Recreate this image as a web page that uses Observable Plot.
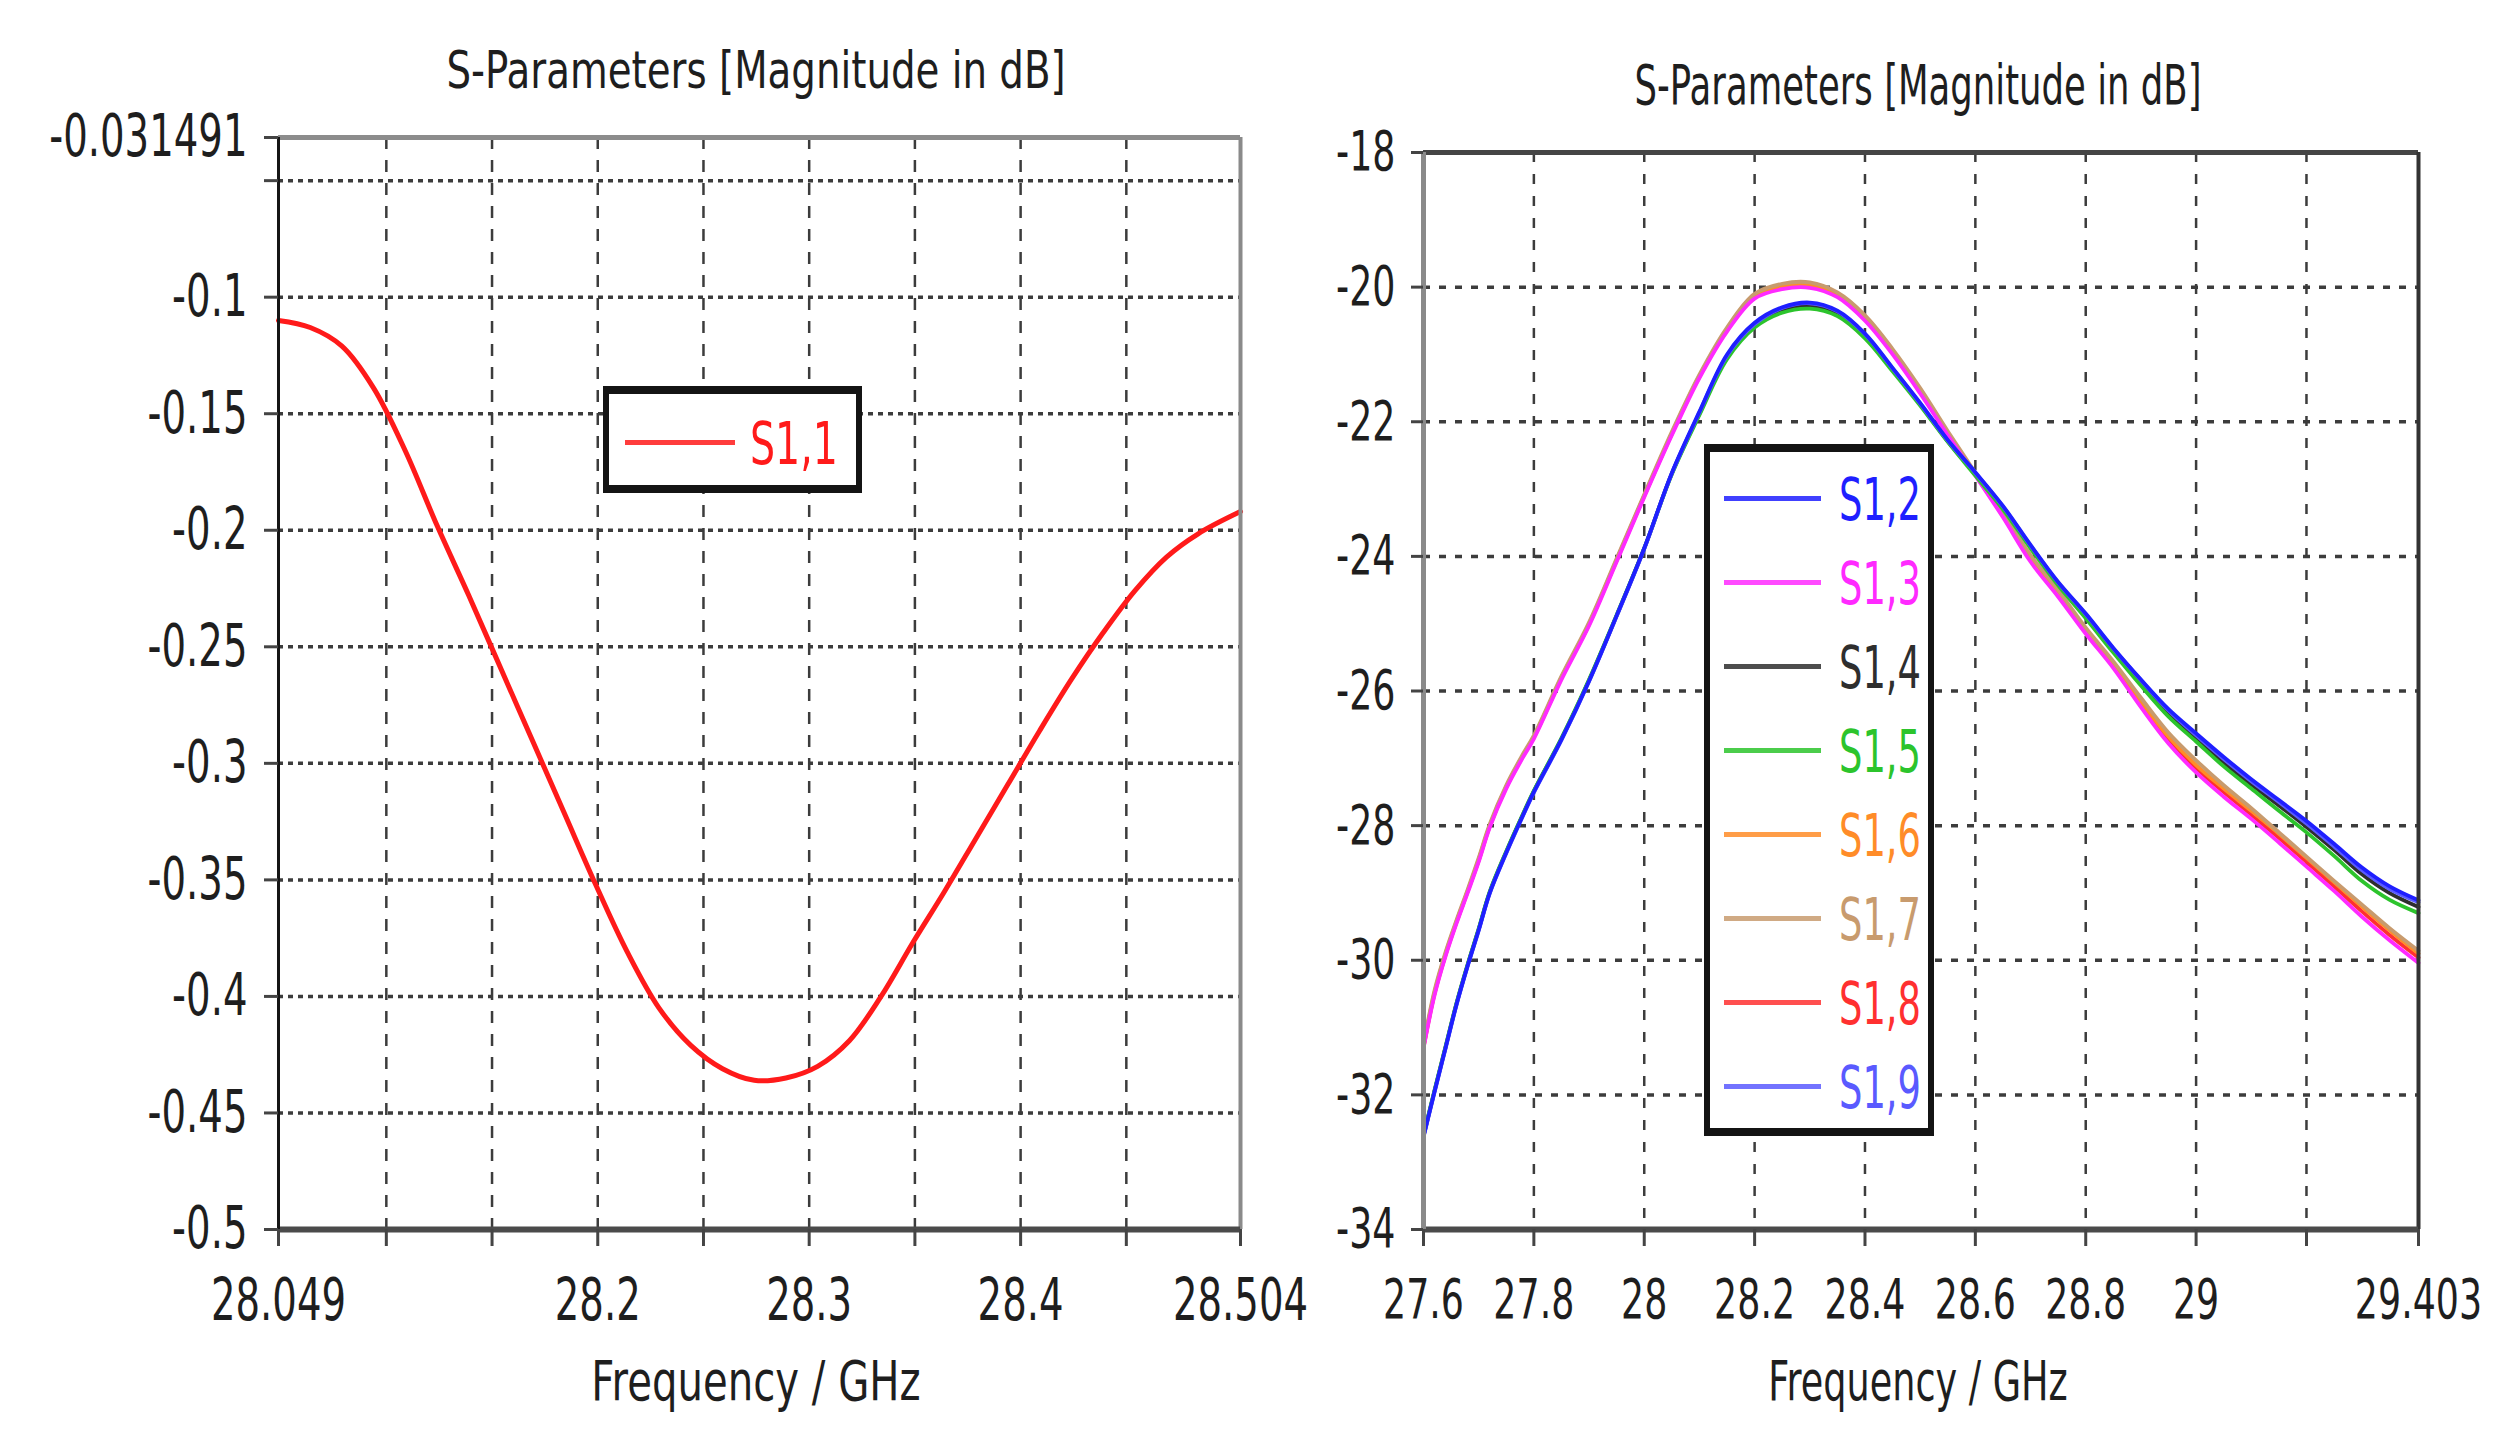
<!DOCTYPE html>
<html><head><meta charset="utf-8">
<script src="https://cdn.jsdelivr.net/npm/d3@7"></script>
<script src="https://cdn.jsdelivr.net/npm/@observablehq/plot@0.6"></script>
<style>
html,body{margin:0;padding:0;background:#fff;}
#page{position:relative;width:2516px;height:1433px;overflow:hidden;background:#fff;font-family:"DejaVu Sans",sans-serif;color:#1e1e1e;}
.chart{position:absolute;}
.ctext{position:absolute;white-space:nowrap;line-height:1;transform-origin:center center;}
.legend{position:absolute;background:#fff;box-sizing:border-box;border:6px solid #141414;border-top-width:8px;border-bottom-width:8px;}
.swatch{position:absolute;height:5px;}
.ltext{position:absolute;white-space:nowrap;line-height:1;transform-origin:left center;}
</style></head>
<body><div id="page"></div>
<script>
// ---------- text ----------
const chartTitle = "S-Parameters [Magnitude in dB]";
const xAxisLabel = "Frequency / GHz";

// ---------- left chart data (S1,1) ----------
const leftSeriesName = "S1,1";
const leftSeriesColor = "#ff1a1a";
const freqLeft = [28.049, 28.064, 28.079, 28.094, 28.109, 28.124, 28.139, 28.154, 28.169, 28.184, 28.199, 28.214, 28.229, 28.244, 28.259, 28.274, 28.289, 28.304, 28.319, 28.334, 28.349, 28.364, 28.379, 28.394, 28.409, 28.424, 28.439, 28.454, 28.469, 28.484, 28.504];
const s11 = [-0.110, -0.113, -0.121, -0.139, -0.166, -0.198, -0.228, -0.259, -0.290, -0.321, -0.352, -0.381, -0.405, -0.421, -0.431, -0.436, -0.435, -0.430, -0.419, -0.400, -0.377, -0.355, -0.332, -0.309, -0.286, -0.264, -0.244, -0.226, -0.2115, -0.2015, -0.192];
const leftXDomain = [28.049, 28.504];
const leftYDomain = [-0.5, -0.031491];
const leftXTicks = [28.049, 28.1, 28.15, 28.2, 28.25, 28.3, 28.35, 28.4, 28.45, 28.504];
const leftXTickLabels = ["28.049", "", "", "28.2", "", "28.3", "", "28.4", "", "28.504"];
const leftYTicks = [-0.031491, -0.05, -0.1, -0.15, -0.2, -0.25, -0.3, -0.35, -0.4, -0.45, -0.5];
const leftYTickLabels = ["-0.031491", "", "-0.1", "-0.15", "-0.2", "-0.25", "-0.3", "-0.35", "-0.4", "-0.45", "-0.5"];
const leftGridX = [28.1, 28.15, 28.2, 28.25, 28.3, 28.35, 28.4, 28.45];
const leftGridY = [-0.05, -0.1, -0.15, -0.2, -0.25, -0.3, -0.35, -0.4, -0.45];

// ---------- right chart data (S1,2 ... S1,9) ----------
const freqRight = [27.6, 27.62, 27.64, 27.66, 27.68, 27.7, 27.72, 27.75, 27.78, 27.8, 27.85, 27.9, 27.95, 28.0, 28.05, 28.1, 28.15, 28.2, 28.25, 28.3, 28.35, 28.4, 28.45, 28.5, 28.55, 28.6, 28.65, 28.7, 28.75, 28.8, 28.85, 28.9, 28.95, 29.0, 29.05, 29.1, 29.15, 29.2, 29.25, 29.3, 29.35, 29.403];
const s12 = [-32.62, -31.95, -31.3, -30.65, -30.08, -29.55, -29.0, -28.4, -27.85, -27.5, -26.72, -25.85, -24.88, -23.88, -22.76, -21.85, -21.0, -20.53, -20.3, -20.23, -20.35, -20.69, -21.2, -21.72, -22.27, -22.75, -23.25, -23.83, -24.38, -24.85, -25.36, -25.83, -26.27, -26.63, -26.98, -27.31, -27.62, -27.93, -28.27, -28.62, -28.9, -29.11];
const s13 = [-31.31, -30.52, -29.94, -29.45, -29.0, -28.54, -28.03, -27.45, -26.99, -26.71, -25.83, -25.03, -24.08, -23.12, -22.2, -21.35, -20.66, -20.17, -20.03, -20.01, -20.15, -20.5, -21.0, -21.58, -22.2, -22.8, -23.42, -24.08, -24.6, -25.15, -25.66, -26.24, -26.78, -27.21, -27.57, -27.9, -28.25, -28.61, -28.97, -29.35, -29.7, -30.04];
const s14 = [-32.61, -31.94, -31.29, -30.64, -30.07, -29.54, -28.99, -28.39, -27.84, -27.49, -26.71, -25.84, -24.88, -23.88, -22.77, -21.88, -21.04, -20.57, -20.34, -20.28, -20.4, -20.73, -21.22, -21.74, -22.29, -22.78, -23.28, -23.86, -24.41, -24.89, -25.4, -25.88, -26.33, -26.7, -27.06, -27.39, -27.7, -28.02, -28.36, -28.72, -29.0, -29.21];
const s15 = [-32.6, -31.93, -31.28, -30.63, -30.06, -29.53, -28.98, -28.38, -27.83, -27.48, -26.7, -25.83, -24.87, -23.88, -22.78, -21.9, -21.07, -20.6, -20.38, -20.32, -20.43, -20.76, -21.25, -21.76, -22.3, -22.8, -23.3, -23.88, -24.43, -24.92, -25.43, -25.92, -26.38, -26.75, -27.12, -27.45, -27.78, -28.1, -28.45, -28.82, -29.1, -29.3];
const s16 = [-31.28, -30.48, -29.9, -29.42, -28.97, -28.5, -28.0, -27.42, -26.96, -26.68, -25.8, -25.0, -24.05, -23.1, -22.17, -21.32, -20.63, -20.14, -19.99, -19.97, -20.12, -20.46, -20.95, -21.54, -22.17, -22.78, -23.38, -24.02, -24.55, -25.1, -25.6, -26.16, -26.68, -27.1, -27.45, -27.78, -28.12, -28.48, -28.84, -29.2, -29.55, -29.9];
const s17 = [-31.25, -30.45, -29.88, -29.4, -28.95, -28.48, -27.98, -27.4, -26.94, -26.66, -25.78, -24.98, -24.03, -23.08, -22.15, -21.3, -20.6, -20.1, -19.95, -19.93, -20.08, -20.42, -20.92, -21.5, -22.14, -22.76, -23.36, -23.98, -24.5, -25.06, -25.56, -26.1, -26.62, -27.03, -27.4, -27.74, -28.1, -28.46, -28.82, -29.17, -29.52, -29.86];
const s18 = [-31.3, -30.5, -29.92, -29.43, -28.98, -28.52, -28.01, -27.43, -26.97, -26.69, -25.81, -25.01, -24.06, -23.1, -22.18, -21.33, -20.64, -20.15, -20.0, -19.98, -20.13, -20.48, -20.97, -21.56, -22.18, -22.79, -23.4, -24.05, -24.58, -25.12, -25.62, -26.2, -26.72, -27.15, -27.5, -27.84, -28.18, -28.54, -28.9, -29.27, -29.62, -29.96];
const s19 = [-32.63, -31.96, -31.31, -30.66, -30.09, -29.56, -29.01, -28.41, -27.86, -27.51, -26.73, -25.86, -24.89, -23.89, -22.77, -21.86, -21.02, -20.55, -20.31, -20.24, -20.36, -20.7, -21.21, -21.73, -22.28, -22.76, -23.26, -23.84, -24.39, -24.86, -25.37, -25.84, -26.29, -26.66, -27.01, -27.34, -27.65, -27.97, -28.31, -28.66, -28.94, -29.14];
const rightSeriesNames = ["S1,2", "S1,3", "S1,4", "S1,5", "S1,6", "S1,7", "S1,8", "S1,9"];
const rightSeriesValues = [s12, s13, s14, s15, s16, s17, s18, s19];
const rightSeriesColors = ["#1f1fff", "#ff2aff", "#2e2e2e", "#2cc42c", "#ff8c28", "#c89b6e", "#ff3030", "#5a5aff"];
const rightDrawOrder = ["S1,4", "S1,8", "S1,6", "S1,7", "S1,3", "S1,5", "S1,9", "S1,2"];
const rightXDomain = [27.6, 29.403];
const rightYDomain = [-34, -18];
const rightXTicks = [27.6, 27.8, 28, 28.2, 28.4, 28.6, 28.8, 29, 29.2, 29.403];
const rightXTickLabels = ["27.6", "27.8", "28", "28.2", "28.4", "28.6", "28.8", "29", "", "29.403"];
const rightYTicks = [-18, -20, -22, -24, -26, -28, -30, -32, -34];
const rightYTickLabels = ["-18", "-20", "-22", "-24", "-26", "-28", "-30", "-32", "-34"];
const rightGridX = [27.8, 28, 28.2, 28.4, 28.6, 28.8, 29, 29.2];
const rightGridY = [-20, -22, -24, -26, -28, -30, -32];

// ---------- helpers ----------
const page = document.getElementById("page");
const gridColor = "#3c3c3c";
const SVGNS = "http://www.w3.org/2000/svg";
function labeler(ticks, labels) {
  const m = new Map(ticks.map((t, i) => [t, labels[i]]));
  return d => m.has(d) ? m.get(d) : "";
}
// narrow each text horizontally around its own anchor point (wrapper group transform)
function squeeze(svg, s) {
  Array.from(svg.querySelectorAll("text")).forEach(t => {
    if (!t.textContent) return;
    const g = document.createElementNS(SVGNS, "g");
    t.parentNode.insertBefore(g, t);
    g.appendChild(t);
    const b = g.getBBox();
    const anchor = getComputedStyle(t).textAnchor;
    const ax = anchor === "end" ? b.x + b.width : anchor === "middle" ? b.x + b.width / 2 : b.x;
    g.setAttribute("transform", `translate(${ax},0) scale(${s},1) translate(${-ax},0)`);
  });
}
function addText(str, cx, top, size, sx) {
  const d = document.createElement("div");
  d.className = "ctext";
  d.textContent = str;
  d.style.left = cx + "px";
  d.style.top = top + "px";
  d.style.fontSize = size + "px";
  d.style.transform = `translateX(-50%) scaleX(${sx})`;
  page.appendChild(d);
}
function addLegendItem(name, color, swLeft, swWidth, cy, textLeft, size, sx) {
  const sw = document.createElement("div");
  sw.className = "swatch";
  sw.style.left = swLeft + "px"; sw.style.width = swWidth + "px";
  sw.style.top = (cy - 2.5) + "px";
  sw.style.background = color; sw.style.opacity = 0.85;
  page.appendChild(sw);
  const t = document.createElement("div");
  t.className = "ltext";
  t.textContent = name;
  t.style.left = textLeft + "px";
  t.style.top = (cy + 22 - 0.846 * size) + "px";
  t.style.fontSize = size + "px";
  t.style.color = color;
  t.style.transform = `scaleX(${sx})`;
  page.appendChild(t);
}

// ---------- left chart ----------
const leftPlot = Plot.plot({
  width: 1290, height: 1230,
  marginLeft: 278, marginRight: 50, marginTop: 37, marginBottom: 101,
  x: {domain: leftXDomain},
  y: {domain: leftYDomain},
  style: {fontFamily: "DejaVu Sans", fontSize: "59px", color: "#1e1e1e", background: "transparent", maxWidth: "none", overflow: "visible"},
  marks: [
    Plot.ruleY(leftGridY, {stroke: gridColor, strokeWidth: 3.5, strokeDasharray: "5,5"}),
    Plot.ruleX(leftGridX, {stroke: gridColor, strokeWidth: 2.5, strokeDasharray: "12,11"}),
    Plot.line(s11, {x: freqLeft, y: s11, stroke: leftSeriesColor, strokeWidth: 5, curve: "catmull-rom"}),
    Plot.ruleY([leftYDomain[1]], {stroke: "#8c8c8c", strokeWidth: 5}),
    Plot.ruleX([leftXDomain[1]], {stroke: "#8a8a8a", strokeWidth: 4}),
    Plot.ruleY([leftYDomain[0]], {stroke: "#4a4a4a", strokeWidth: 6}),
    Plot.ruleX([leftXDomain[0]], {stroke: "#161616", strokeWidth: 3}),
    Plot.axisY({ticks: leftYTicks, tickFormat: labeler(leftYTicks, leftYTickLabels), tickSize: 14, tickPadding: 17, stroke: "#444", strokeWidth: 3, label: null}),
    Plot.axisX({ticks: leftXTicks, tickFormat: labeler(leftXTicks, leftXTickLabels), tickSize: 17, tickPadding: 32, stroke: "#444", strokeWidth: 3, label: null})
  ]
});
const c1 = document.createElement("div");
c1.className = "chart"; c1.style.left = "0px"; c1.style.top = "100px"; c1.style.width = "1290px";
c1.appendChild(leftPlot); page.appendChild(c1);
squeeze(leftPlot, 0.655);

// ---------- right chart ----------
const rightMarks = [
  Plot.ruleY(rightGridY, {stroke: gridColor, strokeWidth: 3.5, strokeDasharray: "7,9"}),
  Plot.ruleX(rightGridX, {stroke: gridColor, strokeWidth: 2.5, strokeDasharray: "10,12"})
];
rightDrawOrder.forEach(name => {
  const i = rightSeriesNames.indexOf(name);
  const vals = rightSeriesValues[i];
  rightMarks.push(Plot.line(vals, {x: freqRight, y: vals, stroke: rightSeriesColors[i], strokeWidth: 3.8, curve: "catmull-rom"}));
});
rightMarks.push(
  Plot.ruleY([rightYDomain[1]], {stroke: "#454545", strokeWidth: 5}),
  Plot.ruleX([rightXDomain[1]], {stroke: "#333", strokeWidth: 4}),
  Plot.ruleY([rightYDomain[0]], {stroke: "#4a4a4a", strokeWidth: 6}),
  Plot.ruleX([rightXDomain[0]], {stroke: "#8a8a8a", strokeWidth: 5}),
  Plot.axisY({ticks: rightYTicks, tickFormat: labeler(rightYTicks, rightYTickLabels), tickSize: 12, tickPadding: 16, stroke: "#444", strokeWidth: 3, label: null}),
  Plot.axisX({ticks: rightXTicks, tickFormat: labeler(rightXTicks, rightXTickLabels), tickSize: 17, tickPadding: 32, stroke: "#444", strokeWidth: 3, label: null})
);
const rightPlot = Plot.plot({
  width: 1226, height: 1230,
  marginLeft: 133, marginRight: 98, marginTop: 52, marginBottom: 101,
  x: {domain: rightXDomain},
  y: {domain: rightYDomain},
  style: {fontFamily: "DejaVu Sans", fontSize: "56px", color: "#1e1e1e", background: "transparent", maxWidth: "none", overflow: "visible"},
  marks: rightMarks
});
const c2 = document.createElement("div");
c2.className = "chart"; c2.style.left = "1290px"; c2.style.top = "100px"; c2.style.width = "1226px";
c2.appendChild(rightPlot); page.appendChild(c2);
squeeze(rightPlot, 0.65);

// ---------- titles and axis labels ----------
addText(chartTitle, 756, 44, 52, 0.745);
addText(chartTitle, 1918, 58, 55, 0.645);
addText(xAxisLabel, 756, 1353, 56, 0.718);
addText(xAxisLabel, 1918, 1353, 56, 0.653);

// ---------- legends ----------
const lb = document.createElement("div");
lb.className = "legend";
Object.assign(lb.style, {left: "603px", top: "386px", width: "259px", height: "107px"});
page.appendChild(lb);
addLegendItem(leftSeriesName, leftSeriesColor, 625, 110, 442, 750, 59, 0.67);

const rb = document.createElement("div");
rb.className = "legend";
Object.assign(rb.style, {left: "1704px", top: "444px", width: "230px", height: "692px"});
page.appendChild(rb);
rightSeriesNames.forEach((name, i) => {
  addLegendItem(name, rightSeriesColors[i], 1724, 97, 498 + 84 * i, 1839, 59, 0.625);
});
</script></body></html>
